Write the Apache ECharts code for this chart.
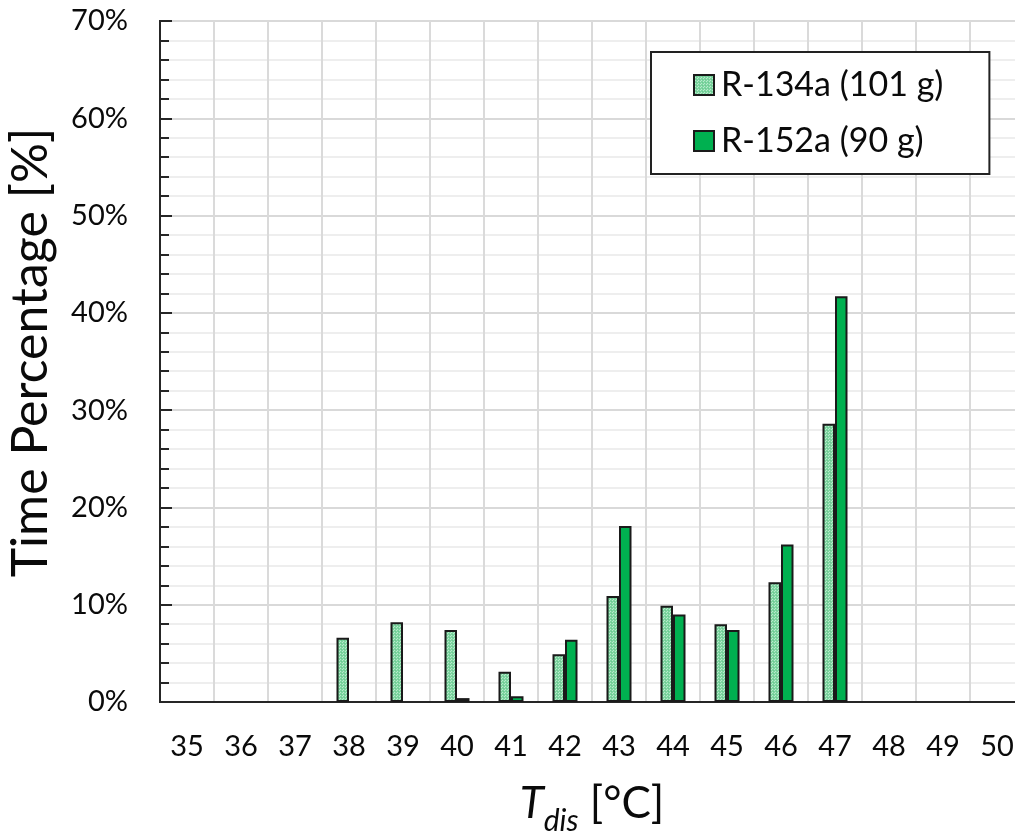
<!DOCTYPE html>
<html>
<head>
<meta charset="utf-8">
<script src="https://cdn.jsdelivr.net/npm/echarts@6/dist/echarts.min.js"></script>
<style>
html,body{margin:0;padding:0;background:#fff;}
#chart{width:1015px;height:838px;}
</style>
</head>
<body>
<div id="chart"></div>
<script>
const categories = ['35','36','37','38','39','40','41','42','43','44','45','46','47','48','49','50'];
const r134a = [0, 0, 0, 6.6, 8.2, 7.4, 3.1, 4.9, 10.9, 9.9, 8.0, 12.3, 28.6, 0, 0, 0];
const r152a = [0, 0, 0, 0, 0, 0.4, 0.6, 6.4, 18.1, 9.0, 7.4, 16.2, 41.7, 0, 0, 0];
const seriesNames = ['R-134a (101 g)', 'R-152a (90 g)'];
const yTicks = [0, 10, 20, 30, 40, 50, 60, 70];

// dotted pattern for R-134a
const pc = document.createElement('canvas');
pc.width = 3; pc.height = 3;
const pctx = pc.getContext('2d');
pctx.fillStyle = '#7dd4a0';
pctx.fillRect(0, 0, 3, 3);
pctx.fillStyle = '#b9ebcc';
pctx.fillRect(0, 0, 1, 1);
pctx.fillRect(1, 2, 1, 1);
pctx.fillStyle = '#6ccb91';
pctx.fillRect(2, 1, 1, 1);

const FONT = 'Lato';
const chart = echarts.init(document.getElementById('chart'), null, {renderer: 'canvas'});
const toData = arr => arr.map(v => v === 0 ? null : v);

chart.setOption({
  animation: false,
  backgroundColor: '#fff',
  textStyle: {fontFamily: FONT},
  grid: {
    left: 160, top: 21, width: 864, height: 681,
    outerBoundsMode: 'none',
    containLabel: false,
    show: true, borderColor: '#3a3a3a', borderWidth: 2, backgroundColor: 'transparent'
  },
  legend: {
    orient: 'vertical',
    left: 651, top: 52,
    padding: [16, 46, 16, 42],
    itemGap: 22,
    itemWidth: 20, itemHeight: 20,
    icon: 'rect',
    backgroundColor: '#fff',
    borderColor: '#222',
    borderWidth: 2,
    textStyle: {fontFamily: FONT, fontSize: 34, color: '#0a0a0a', padding: [0, 0, 0, 2]},
    data: seriesNames
  },
  xAxis: {
    type: 'category',
    data: categories,
    boundaryGap: true,
    axisLine: {show: true, lineStyle: {color: '#262626', width: 2}},
    axisTick: {show: false},
    axisLabel: {fontFamily: FONT, fontSize: 29, color: '#0a0a0a', margin: 30, interval: 0},
    splitLine: {show: true, interval: 0, lineStyle: {color: '#dadada', width: 2}},
    name: '{t|T}{s|dis}{n| [°C]}',
    nameLocation: 'middle',
    nameGap: 76,
    nameTextStyle: {
      rich: {
        t: {fontFamily: FONT, fontSize: 44, fontStyle: 'italic', color: '#0a0a0a', lineHeight: 48, verticalAlign: 'bottom'},
        s: {fontFamily: FONT, fontSize: 30, fontStyle: 'italic', color: '#0a0a0a', lineHeight: 48, verticalAlign: 'bottom', padding: [0, 0, -10, 0]},
        n: {fontFamily: FONT, fontSize: 44, color: '#0a0a0a', lineHeight: 48, verticalAlign: 'bottom'}
      }
    }
  },
  yAxis: {
    type: 'value',
    min: 0, max: 70, interval: 10,
    axisLine: {show: true, lineStyle: {color: '#262626', width: 2}},
    axisTick: {show: true, inside: true, length: 12, lineStyle: {color: '#262626', width: 2}},
    minorTick: {show: true, splitNumber: 5, length: 9, lineStyle: {color: '#262626', width: 2}},
    axisLabel: {fontFamily: FONT, fontSize: 29, color: '#0a0a0a', margin: 32, formatter: v => v + '%'},
    splitLine: {show: true, lineStyle: {color: '#d9d9d9', width: 2}},
    minorSplitLine: {show: true, lineStyle: {color: '#eeeeee', width: 2}},
    name: 'Time Percentage [%]',
    nameLocation: 'middle',
    nameGap: 104,
    nameTextStyle: {fontFamily: FONT, fontSize: 50, color: '#0a0a0a', padding: [0, 0, 0, 18]}
  },
  series: [
    {
      name: seriesNames[0], type: 'bar', data: toData(r134a),
      barWidth: 12.5, barGap: '0%',
      itemStyle: {color: {image: pc, repeat: 'repeat'}, borderColor: '#1a1a1a', borderWidth: 2}
    },
    {
      name: seriesNames[1], type: 'bar', data: toData(r152a),
      barWidth: 12.5, barGap: '0%',
      itemStyle: {color: '#00b050', borderColor: '#1a1a1a', borderWidth: 2}
    }
  ]
});
</script>
</body>
</html>
